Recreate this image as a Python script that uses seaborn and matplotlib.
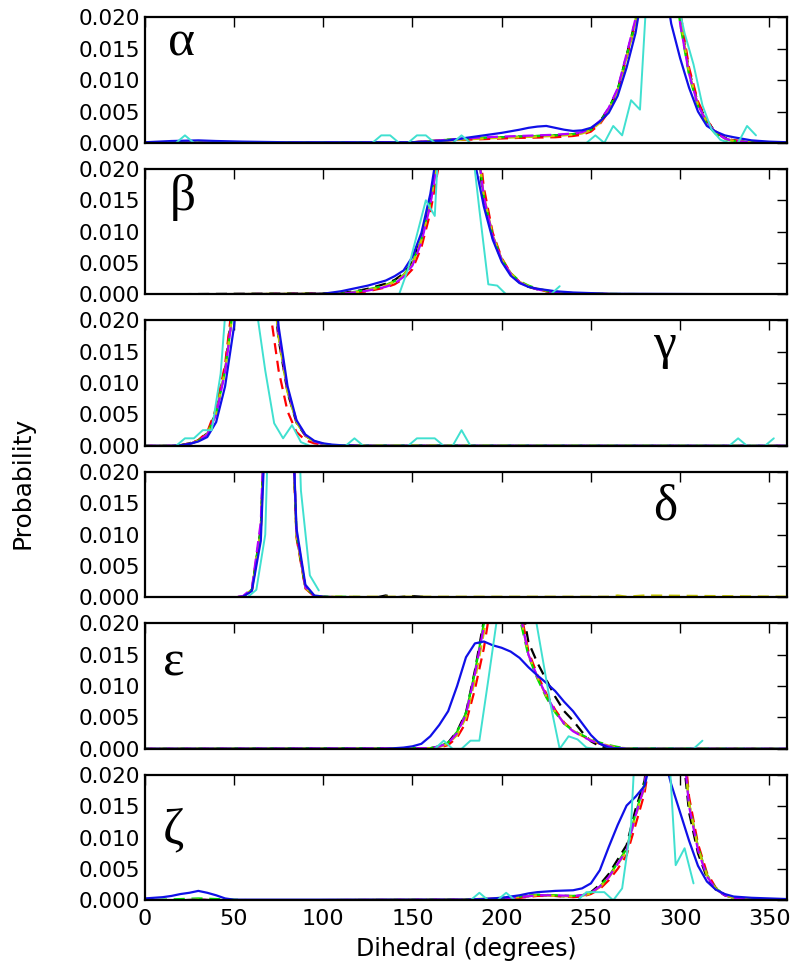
import numpy as np
import matplotlib
matplotlib.use("Agg")
import matplotlib.pyplot as plt
import seaborn as sns
from matplotlib.ticker import FormatStrFormatter

# ---- data (probability vs dihedral angle) ----
# alpha
alpha_bx = [0, 15, 30, 40, 55, 80, 150, 160, 170, 180, 190, 200, 210, 215, 220, 225, 230, 235, 240, 245,
            250, 255, 260, 265, 270, 275, 280, 285, 290, 295, 300, 305, 310, 315, 320, 325, 330, 340, 350, 360]
alpha_blue = [0.0001, 0.0003, 0.0004, 0.0003, 0.0002, 0.0001, 0.0001, 0.0002, 0.0004, 0.0008, 0.0012, 0.0016,
              0.0021, 0.0024, 0.0026, 0.0027, 0.0024, 0.0021, 0.0019, 0.0020, 0.0024, 0.0034, 0.0048, 0.0075,
              0.0120, 0.0175, 0.026, 0.034, 0.028, 0.019, 0.0135, 0.0088, 0.0050, 0.0027, 0.0018, 0.0012,
              0.0009, 0.0004, 0.0002, 0.0001]
alpha_dx = [0, 150, 170, 190, 210, 230, 240, 245, 250, 255, 260, 265, 270, 275, 280, 285, 290, 295, 300,
            305, 310, 315, 320, 325, 330, 340, 360]
alpha_black = [0, 0.0001, 0.0005, 0.0008, 0.0010, 0.0012, 0.0014, 0.0016, 0.0022, 0.0034, 0.0055, 0.0085,
               0.0140, 0.0195, 0.030, 0.040, 0.042, 0.032, 0.020, 0.0115, 0.0063, 0.0035, 0.0017, 0.0008,
               0.0004, 0.0001, 0]
alpha_red = [0, 0.0001, 0.0004, 0.0006, 0.0008, 0.0009, 0.0011, 0.0013, 0.0018, 0.0030, 0.0050, 0.0080,
             0.0135, 0.0190, 0.029, 0.040, 0.043, 0.034, 0.021, 0.0120, 0.0066, 0.0036, 0.0018, 0.0008,
             0.0004, 0.0001, 0]
alpha_magenta = [0, 0.0001, 0.0005, 0.0009, 0.0011, 0.0013, 0.0015, 0.0017, 0.0023, 0.0035, 0.0056, 0.0087,
                 0.0142, 0.0198, 0.030, 0.040, 0.042, 0.031, 0.019, 0.0110, 0.0060, 0.0033, 0.0016, 0.0007,
                 0.0003, 0.0001, 0]
alpha_green = [0, 0.0001, 0.0005, 0.0008, 0.0010, 0.0012, 0.0014, 0.0016, 0.0021, 0.0033, 0.0054, 0.0084,
               0.0138, 0.0193, 0.030, 0.041, 0.042, 0.031, 0.019, 0.0108, 0.0058, 0.0030, 0.0014, 0.0006,
               0.0003, 0.0001, 0]
alpha_yellow = [0, 0.0001, 0.0004, 0.0007, 0.0009, 0.0011, 0.0013, 0.0015, 0.0020, 0.0032, 0.0053, 0.0083,
                0.0137, 0.0192, 0.029, 0.040, 0.042, 0.032, 0.020, 0.0112, 0.0061, 0.0033, 0.0016, 0.0007,
                0.0003, 0.0001, 0]
alpha_cx = [12.5, 17.5, 22.5, 27.5, 127.5, 132.5, 137.5, 142.5, 147.5, 152.5, 157.5, 162.5, 172.5, 177.5,
            182.5, 247.5, 252.5, 257.5, 262.5, 267.5, 272.5, 277.5, 282.5, 287.5, 292.5, 297.5, 302.5,
            307.5, 312.5, 317.5, 322.5, 327.5, 332.5, 337.5, 342.5]
alpha_cyan = [0, 0, 0.0012, 0, 0, 0.0012, 0.0012, 0, 0, 0.0012, 0.0012, 0, 0, 0.0012, 0, 0, 0.0012, 0,
              0.0027, 0.0012, 0.0068, 0.0053, 0.030, 0.050, 0.045, 0.024, 0.0175, 0.0125, 0.0060, 0.0022,
              0.0005, 0, 0, 0.0027, 0.0012]

# beta
beta_bx = [0, 95, 100, 105, 110, 115, 120, 125, 130, 135, 140, 145, 150, 155, 160, 165, 170, 175, 180, 185,
           190, 195, 200, 205, 210, 215, 220, 230, 240, 260, 360]
beta_blue = [0, 0.00005, 0.0001, 0.0003, 0.0005, 0.0008, 0.0011, 0.0014, 0.0018, 0.0022, 0.0029, 0.0038,
             0.0060, 0.0098, 0.0160, 0.025, 0.040, 0.050, 0.045, 0.021, 0.014, 0.0087, 0.0052, 0.0030,
             0.0018, 0.0012, 0.0009, 0.0005, 0.0003, 0.0001, 0]
beta_dx = [0, 110, 120, 125, 130, 135, 140, 145, 150, 155, 160, 165, 170, 175, 180, 185, 190, 195, 200, 205,
           210, 215, 220, 225, 230, 240, 250, 270, 360]
beta_black = [0, 0.0002, 0.0006, 0.0009, 0.0013, 0.0017, 0.0023, 0.0033, 0.0052, 0.0090, 0.0150, 0.024,
              0.038, 0.050, 0.048, 0.026, 0.015, 0.0090, 0.0054, 0.0032, 0.0019, 0.0012, 0.0008, 0.0005,
              0.0003, 0.0002, 0.0001, 0, 0]
beta_red = [0, 0.0001, 0.0003, 0.0005, 0.0008, 0.0011, 0.0016, 0.0025, 0.0040, 0.0075, 0.0130, 0.021,
            0.034, 0.048, 0.050, 0.030, 0.017, 0.0098, 0.0058, 0.0034, 0.0020, 0.0013, 0.0008, 0.0005,
            0.0003, 0.0002, 0.0001, 0, 0]
beta_magenta = [0, 0.0001, 0.0004, 0.0006, 0.0009, 0.0012, 0.0017, 0.0028, 0.0046, 0.0083, 0.0142, 0.023,
                0.036, 0.050, 0.049, 0.027, 0.0155, 0.0092, 0.0055, 0.0033, 0.0019, 0.0012, 0.0008, 0.0005,
                0.0003, 0.0002, 0.0001, 0, 0]
beta_green = [0, 0.0001, 0.0005, 0.0008, 0.0011, 0.0015, 0.0021, 0.0031, 0.0050, 0.0088, 0.0148, 0.024,
              0.037, 0.050, 0.048, 0.027, 0.0155, 0.0093, 0.0056, 0.0034, 0.0021, 0.0014, 0.0009, 0.0006,
              0.0004, 0.0002, 0.0001, 0.00005, 0]
beta_yellow = [0, 0.0001, 0.0004, 0.0007, 0.0010, 0.0014, 0.0020, 0.0030, 0.0048, 0.0086, 0.0145, 0.023,
               0.037, 0.050, 0.048, 0.027, 0.0157, 0.0094, 0.0056, 0.0034, 0.0020, 0.0013, 0.0009, 0.0006,
               0.0004, 0.0002, 0.0001, 0.00005, 0]
beta_cx = [142.5, 147.5, 152.5, 157.5, 162.5, 167.5, 172.5, 177.5, 182.5, 187.5, 192.5, 197.5, 202.5,
           207.5, 212.5, 217.5, 222.5, 227.5, 232.5]
beta_cyan = [0, 0.0040, 0.0095, 0.0150, 0.0125, 0.040, 0.060, 0.050, 0.026, 0.0135, 0.0016, 0.0014, 0,
             0, 0, 0, 0, 0, 0.0013]

# gamma
gamma_bx = [0, 15, 20, 25, 30, 35, 40, 45, 50, 55, 60, 65, 70, 75, 80, 85, 90, 95, 100, 105, 110, 120, 360]
gamma_blue = [0, 0, 0.0001, 0.0003, 0.0007, 0.0014, 0.0038, 0.0095, 0.0190, 0.035, 0.050, 0.050, 0.035,
              0.0190, 0.0095, 0.0041, 0.0018, 0.0008, 0.0004, 0.0002, 0.0001, 0, 0]
gamma_dx = [0, 15, 20, 25, 30, 35, 40, 45, 50, 55, 60, 65, 70, 75, 80, 85, 90, 95, 100, 105, 110, 130, 360]
gamma_black = [0, 0, 0.0001, 0.0004, 0.0009, 0.0020, 0.0055, 0.0125, 0.024, 0.040, 0.050, 0.048, 0.030,
               0.0170, 0.0085, 0.0037, 0.0016, 0.0007, 0.0003, 0.0001, 0.00005, 0, 0]
gamma_red = [0, 0, 0.0001, 0.0004, 0.0009, 0.0022, 0.0060, 0.0130, 0.025, 0.040, 0.050, 0.045, 0.022,
             0.0120, 0.0055, 0.0022, 0.0009, 0.0004, 0.0002, 0.0001, 0, 0, 0]
gamma_magenta = [0, 0, 0.0001, 0.0003, 0.0008, 0.0018, 0.0050, 0.0118, 0.023, 0.039, 0.050, 0.050, 0.033,
                 0.0180, 0.0090, 0.0040, 0.0017, 0.0007, 0.0003, 0.0001, 0.00005, 0, 0]
gamma_green = [0, 0, 0.0001, 0.0003, 0.0008, 0.0019, 0.0052, 0.0120, 0.023, 0.039, 0.050, 0.049, 0.031,
               0.0175, 0.0087, 0.0038, 0.0016, 0.0007, 0.0003, 0.0001, 0.00005, 0.0001, 0]
gamma_yellow = [0, 0, 0.0001, 0.0003, 0.0008, 0.0019, 0.0052, 0.0121, 0.023, 0.039, 0.050, 0.049, 0.031,
                0.0173, 0.0086, 0.0038, 0.0016, 0.0007, 0.0003, 0.0001, 0.00005, 0.0001, 0]
gamma_cx = [17.5, 22.5, 27.5, 32.5, 37.5, 42.5, 47.5, 52.5, 57.5, 62.5, 67.5, 72.5, 77.5, 82.5, 87.5, 92.5,
            112.5, 117.5, 122.5, 147.5, 152.5, 157.5, 162.5, 167.5, 172.5, 177.5, 182.5, 327.5, 332.5,
            337.5, 347.5, 352.5]
gamma_cyan = [0, 0.0012, 0.0012, 0.0025, 0.0025, 0.0115, 0.030, 0.050, 0.050, 0.022, 0.012, 0.0036, 0.0012,
              0.0033, 0.0006, 0, 0, 0.0012, 0, 0, 0.0012, 0.0012, 0.0012, 0, 0, 0.0025, 0, 0, 0.0012, 0,
              0, 0.0012]

# delta
delta_bx = [0, 50, 55, 60, 65, 70, 75, 80, 85, 90, 95, 100, 105, 360]
delta_blue = [0, 0, 0.0001, 0.0010, 0.0090, 0.045, 0.080, 0.050, 0.011, 0.0020, 0.0003, 0.0001, 0, 0]
delta_dx = [0, 50, 55, 60, 65, 70, 75, 80, 85, 90, 95, 100, 110, 130, 135, 140, 150, 160, 260, 265, 270,
            280, 360]
delta_black = [0, 0, 0.0001, 0.0012, 0.0110, 0.050, 0.080, 0.050, 0.010, 0.0015, 0.0002, 0.0001, 0, 0,
               0.0003, 0, 0.0002, 0, 0, 0, 0, 0, 0]
delta_red = [0, 0, 0.0001, 0.0011, 0.0105, 0.048, 0.080, 0.048, 0.0095, 0.0014, 0.0002, 0, 0, 0, 0, 0, 0,
             0, 0, 0, 0, 0, 0]
delta_magenta = [0, 0, 0.0002, 0.0014, 0.0120, 0.052, 0.080, 0.050, 0.0105, 0.0016, 0.0002, 0.0001, 0, 0,
                 0, 0, 0, 0, 0, 0, 0, 0, 0]
delta_green = [0, 0, 0.0001, 0.0012, 0.0108, 0.049, 0.080, 0.050, 0.0100, 0.0016, 0.0003, 0.0001, 0.0001,
               0, 0, 0, 0, 0, 0, 0, 0, 0, 0]
delta_yellow = [0, 0, 0.0001, 0.0012, 0.0108, 0.049, 0.080, 0.050, 0.0100, 0.0015, 0.0002, 0.0001, 0.0001,
                0.0001, 0.0001, 0.0001, 0.0001, 0.0001, 0.0001, 0.0003, 0.0001, 0.0003, 0.0001]
delta_cx = [57.5, 62.5, 67.5, 72.5, 77.5, 82.5, 87.5, 92.5, 97.5]
delta_cyan = [0, 0.0012, 0.010, 0.060, 0.080, 0.060, 0.017, 0.0035, 0.0011]

# epsilon
eps_bx = [0, 135, 140, 145, 150, 155, 160, 165, 170, 175, 180, 185, 190, 195, 200, 205, 210, 215, 220, 225,
          230, 235, 240, 245, 250, 255, 260, 265, 270, 360]
eps_blue = [0, 0, 0.0001, 0.0002, 0.0004, 0.0008, 0.0020, 0.0038, 0.0060, 0.0100, 0.0146, 0.0168, 0.0171,
            0.0165, 0.0161, 0.0155, 0.0145, 0.0130, 0.0117, 0.0105, 0.0092, 0.0075, 0.0060, 0.0041, 0.0022,
            0.0008, 0.0002, 0.0001, 0, 0]
eps_dx = [0, 160, 165, 170, 175, 180, 185, 190, 195, 200, 205, 210, 215, 220, 225, 230, 235, 240, 245, 250,
          255, 260, 265, 270, 360]
eps_black = [0, 0.0001, 0.0004, 0.0010, 0.0028, 0.0058, 0.0125, 0.0205, 0.030, 0.040, 0.036, 0.025, 0.0170,
             0.0137, 0.0110, 0.0083, 0.0060, 0.0045, 0.0027, 0.0012, 0.0004, 0.0001, 0, 0, 0]
eps_red = [0, 0, 0.0002, 0.0006, 0.0018, 0.0042, 0.0095, 0.0160, 0.025, 0.038, 0.040, 0.023, 0.0155,
           0.0118, 0.0088, 0.0062, 0.0042, 0.0029, 0.0021, 0.0014, 0.0008, 0.0004, 0.0002, 0, 0]
eps_magenta = [0, 0.0001, 0.0004, 0.0009, 0.0025, 0.0055, 0.0120, 0.0195, 0.029, 0.040, 0.038, 0.022,
               0.0150, 0.0115, 0.0085, 0.0060, 0.0040, 0.0028, 0.0020, 0.0013, 0.0008, 0.0004, 0.0002, 0, 0]
eps_green = [0, 0.0001, 0.0004, 0.0010, 0.0027, 0.0057, 0.0122, 0.0200, 0.029, 0.040, 0.037, 0.021, 0.0148,
             0.0112, 0.0082, 0.0058, 0.0040, 0.0029, 0.0022, 0.0015, 0.0010, 0.0006, 0.0003, 0.0001, 0]
eps_yellow = [0, 0.0001, 0.0003, 0.0008, 0.0022, 0.0050, 0.0110, 0.0185, 0.028, 0.040, 0.038, 0.022, 0.0150,
              0.0114, 0.0084, 0.0059, 0.0041, 0.0029, 0.0021, 0.0014, 0.0009, 0.0005, 0.0002, 0.0001, 0]
eps_cx = [162.5, 167.5, 172.5, 177.5, 182.5, 187.5, 192.5, 197.5, 202.5, 207.5, 212.5, 217.5, 222.5, 227.5,
          232.5, 237.5, 242.5, 247.5, 252.5, 257.5, 302.5, 307.5, 312.5]
eps_cyan = [0, 0.0013, 0, 0, 0.0013, 0.0013, 0.011, 0.021, 0.050, 0.060, 0.050, 0.0233, 0.0151, 0.0069, 0,
            0.0020, 0.0015, 0.0002, 0, 0, 0, 0, 0.0013]

# zeta
zeta_bx = [0, 5, 10, 15, 20, 25, 30, 35, 40, 45, 50, 60, 180, 190, 200, 210, 215, 220, 225, 230, 240, 245,
           250, 255, 260, 265, 270, 275, 280, 285, 290, 295, 300, 305, 310, 315, 320, 325, 330, 340, 350, 360]
zeta_blue = [0.0003, 0.0004, 0.0005, 0.0007, 0.0010, 0.0012, 0.0015, 0.0012, 0.0008, 0.0003, 0.0001, 0.0001,
             0.0001, 0.0002, 0.0004, 0.0008, 0.0011, 0.0013, 0.0014, 0.0015, 0.0016, 0.0019, 0.0027, 0.0048,
             0.0085, 0.0120, 0.0151, 0.0165, 0.0182, 0.024, 0.024, 0.0185, 0.0140, 0.0095, 0.0055, 0.0030,
             0.0017, 0.0010, 0.0006, 0.0004, 0.0003, 0.0002]
zeta_dx = [0, 20, 30, 40, 60, 180, 200, 210, 220, 230, 240, 245, 250, 255, 260, 265, 270, 275, 280, 285, 290,
           295, 300, 305, 310, 315, 320, 325, 330, 340, 360]
zeta_black = [0, 0, 0.0001, 0, 0, 0.0001, 0.0003, 0.0005, 0.0008, 0.0007, 0.0006, 0.0008, 0.0013, 0.0025,
              0.0042, 0.0065, 0.0088, 0.0145, 0.0190, 0.030, 0.045, 0.045, 0.028, 0.0140, 0.0075, 0.0036,
              0.0017, 0.0008, 0.0004, 0.0001, 0]
zeta_red = [0, 0, 0.0001, 0, 0, 0.0001, 0.0002, 0.0004, 0.0007, 0.0007, 0.0005, 0.0006, 0.0010, 0.0018,
            0.0032, 0.0050, 0.0072, 0.0120, 0.0170, 0.026, 0.042, 0.048, 0.032, 0.0165, 0.0090, 0.0044,
            0.0020, 0.0009, 0.0004, 0.0001, 0]
zeta_magenta = [0, 0, 0.0001, 0, 0, 0.0001, 0.0003, 0.0005, 0.0008, 0.0008, 0.0007, 0.0008, 0.0012, 0.0022,
                0.0037, 0.0058, 0.0080, 0.0135, 0.0182, 0.029, 0.045, 0.046, 0.030, 0.0150, 0.0080, 0.0038,
                0.0018, 0.0008, 0.0004, 0.0001, 0]
zeta_green = [0, 0.0002, 0.0003, 0.0002, 0, 0.0001, 0.0004, 0.0006, 0.0009, 0.0008, 0.0007, 0.0008, 0.0012,
              0.0022, 0.0038, 0.0060, 0.0082, 0.0138, 0.0185, 0.029, 0.044, 0.046, 0.030, 0.0155, 0.0085,
              0.0041, 0.0019, 0.0009, 0.0004, 0.0001, 0]
zeta_yellow = [0, 0, 0.0001, 0, 0, 0.0001, 0.0003, 0.0005, 0.0008, 0.0007, 0.0006, 0.0007, 0.0011, 0.0021,
               0.0036, 0.0057, 0.0079, 0.0133, 0.0180, 0.028, 0.044, 0.047, 0.030, 0.0155, 0.0083, 0.0040,
               0.0018, 0.0008, 0.0004, 0.0001, 0]
zeta_cx = [182.5, 187.5, 192.5, 197.5, 202.5, 207.5, 242.5, 247.5, 252.5, 257.5, 262.5, 267.5, 272.5, 277.5,
           282.5, 287.5, 292.5, 297.5, 302.5, 307.5]
zeta_cyan = [0, 0.0012, 0, 0, 0.0012, 0, 0, 0.0013, 0.0013, 0.0013, 0, 0.0019, 0.012, 0.040, 0.060, 0.060,
             0.030, 0.0056, 0.0083, 0.0027]

panel_names = ["α", "β", "γ", "δ", "ε", "ζ"]
# label anchor (x in degrees, baseline y in probability)
label_pos = [(13, 0.0139), (14, 0.0135), (285, 0.0140), (285, 0.0124), (10, 0.0117), (10, 0.0090)]

panels = [
    (alpha_bx, alpha_blue, alpha_dx, [alpha_black, alpha_red, alpha_green, alpha_yellow, alpha_magenta], alpha_cx, alpha_cyan),
    (beta_bx, beta_blue, beta_dx, [beta_black, beta_red, beta_green, beta_yellow, beta_magenta], beta_cx, beta_cyan),
    (gamma_bx, gamma_blue, gamma_dx, [gamma_black, gamma_red, gamma_green, gamma_yellow, gamma_magenta], gamma_cx, gamma_cyan),
    (delta_bx, delta_blue, delta_dx, [delta_black, delta_red, delta_green, delta_yellow, delta_magenta], delta_cx, delta_cyan),
    (eps_bx, eps_blue, eps_dx, [eps_black, eps_red, eps_green, eps_yellow, eps_magenta], eps_cx, eps_cyan),
    (zeta_bx, zeta_blue, zeta_dx, [zeta_black, zeta_red, zeta_green, zeta_yellow, zeta_magenta], zeta_cx, zeta_cyan),
]
dash_colors = ["black", "red", "#00dd00", "#c8c800", "#b400ff"]

sns.set_style("white")
plt.rcParams['font.family'] = ['DejaVu Sans']
plt.rcParams['text.color'] = 'black'
plt.rcParams['axes.labelcolor'] = 'black'
plt.rcParams['xtick.color'] = 'black'
plt.rcParams['ytick.color'] = 'black'

fig, axes = plt.subplots(6, 1, figsize=(8, 9.66), dpi=100, sharex=True)
fig.subplots_adjust(left=0.181, right=0.984, top=0.982, bottom=0.068, hspace=0.207)

for i, (ax, (bx, by, dx, dys, cx, cy)) in enumerate(zip(axes, panels)):
    for k, (dy, col) in enumerate(zip(dys, dash_colors)):
        sns.lineplot(x=dx, y=dy, ax=ax, color=col, lw=1.6, sort=False,
                     linestyle=(k * 1.5, (5, 3)))
    sns.lineplot(x=bx, y=by, ax=ax, color="#1010e8", lw=1.6, sort=False)
    sns.lineplot(x=cx, y=cy, ax=ax, color="#40e0d0", lw=1.4, sort=False)

    ax.set_xlim(0, 360)
    ax.set_ylim(0, 0.02)
    ax.set_yticks([0, 0.005, 0.010, 0.015, 0.020])
    ax.set_xticks(range(0, 351, 50))
    ax.yaxis.set_major_formatter(FormatStrFormatter('%.3f'))
    ax.tick_params(direction='in', top=True, right=True, length=7, width=1,
                   labelsize=15.5, colors='black')
    ax.tick_params(axis='x', labelsize=16, pad=6)
    for s in ax.spines.values():
        s.set_linewidth(1.6)
        s.set_color('black')
    ax.set_ylabel('')
    ax.set_xlabel('')
    tx, ty = label_pos[i]
    ax.text(tx, ty, panel_names[i], fontsize=37, family='Liberation Serif',
            color='black', ha='left', va='baseline')

axes[-1].set_xlabel("Dihedral (degrees)", fontsize=17, labelpad=6, color='black')
fig.text(0.028, 0.5, "Probability", rotation=90, va='center', ha='center', fontsize=18, color='black')

fig.savefig("out.png", dpi=100)
